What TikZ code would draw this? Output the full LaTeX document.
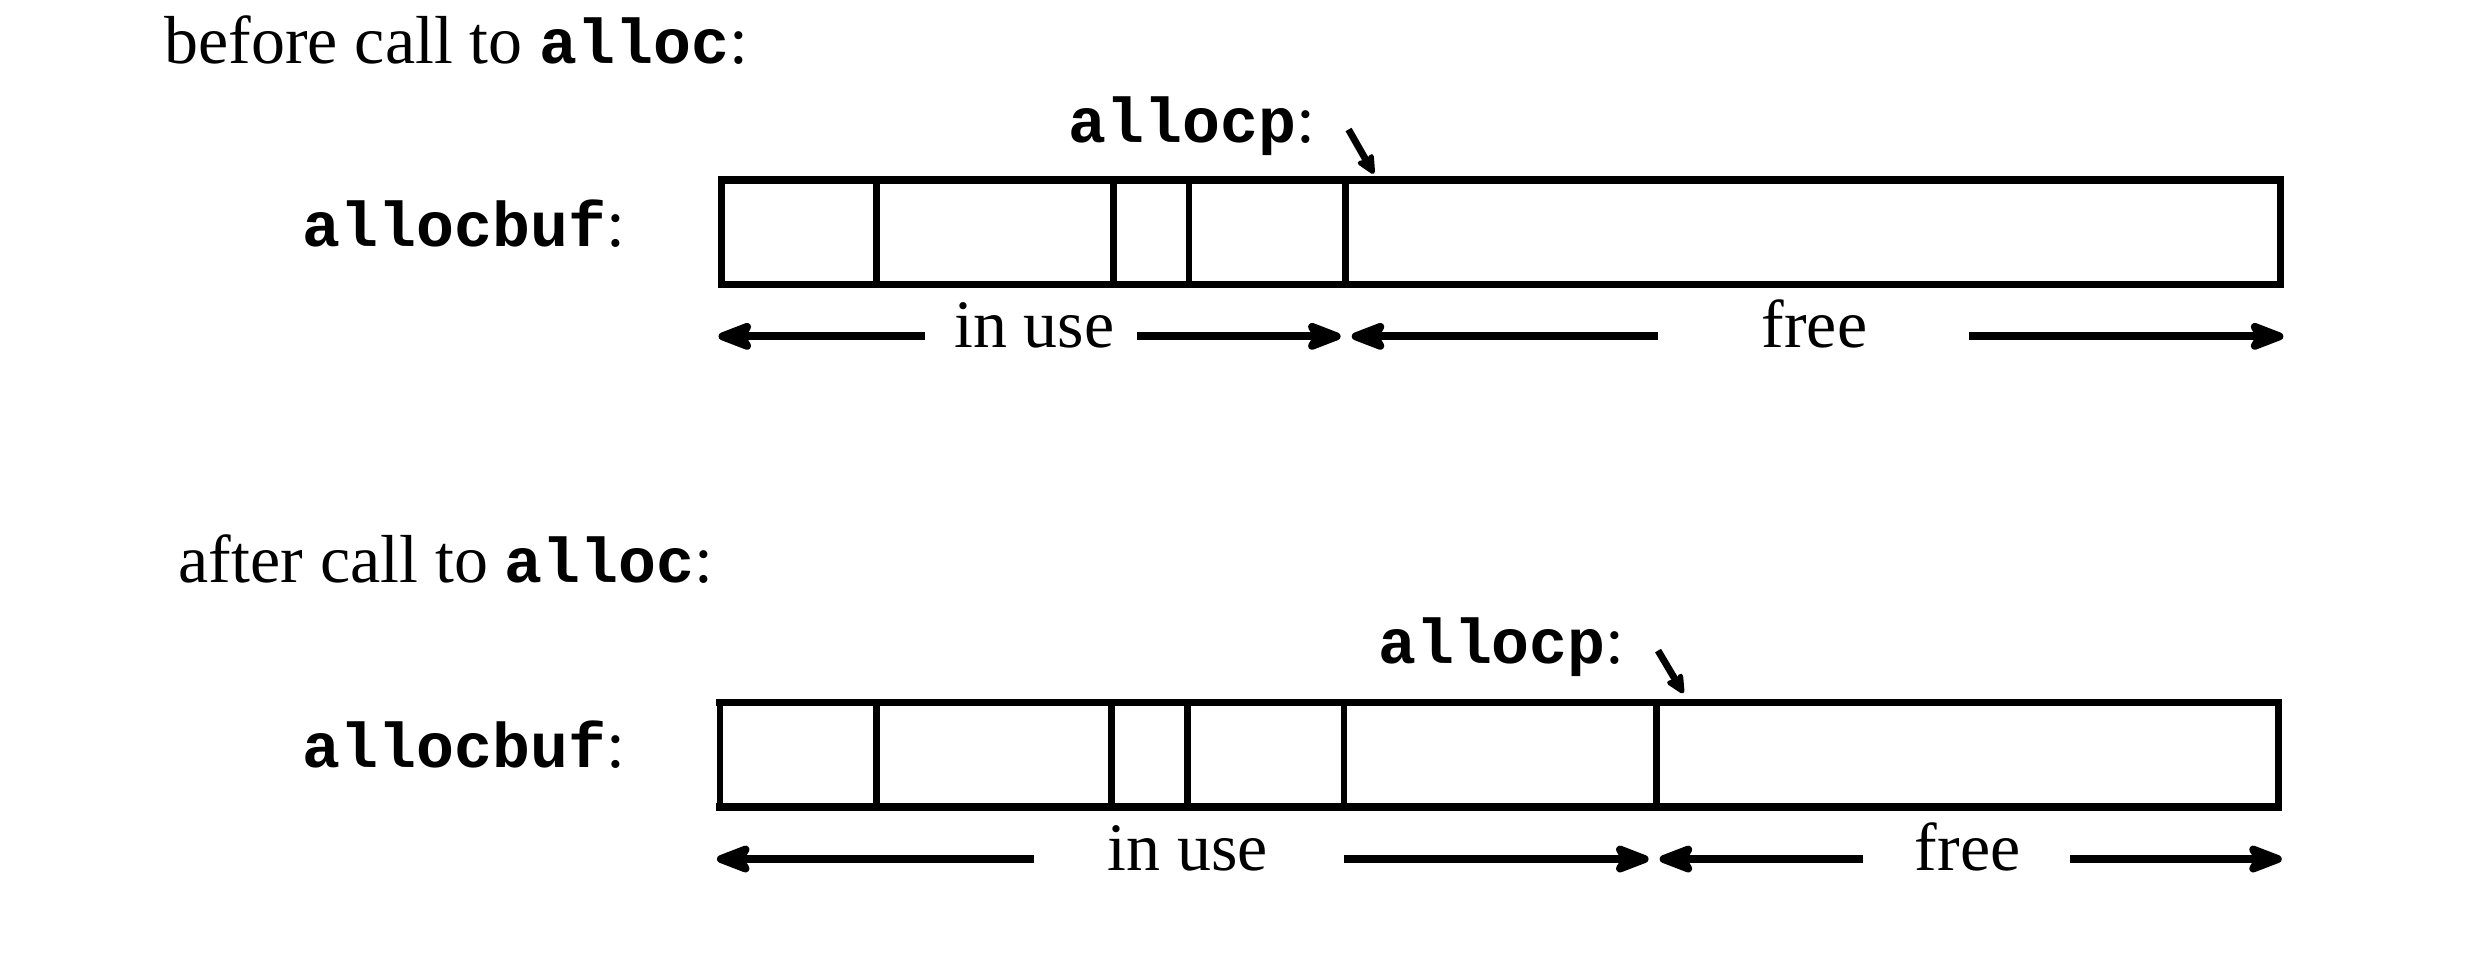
\documentclass[tikz,border=0pt]{standalone}
\usepackage{fontspec}
\setmainfont{Liberation Serif}
\setmonofont{Liberation Mono}
\usetikzlibrary{arrows.meta}
\newcommand{\rmsz}{\fontsize{43}{50}\selectfont}
\newcommand{\code}[1]{{\ttfamily\bfseries\fontsize{40}{48}\selectfont #1}}
\begin{document}
\begin{tikzpicture}[x=1pt,y=-1pt,
  txt/.style={inner sep=0pt, font=\rmsz},
  hline/.style={line width=4.6pt, line cap=rect},
  vline/.style={line width=4.2pt},
  span/.style={line width=5pt, -{Stealth[length=28pt,width=21pt,inset=6pt,round]}},
  ptr/.style={line width=4.4pt, -{Stealth[length=15pt,width=14pt,inset=3pt,round]}}]
\useasboundingbox (0,0) rectangle (1568,603);

% ---------- before ----------
\node[txt, anchor=base west] (t1) at (104,40) {before call to \code{alloc}:};
\node[txt, anchor=base east] (b1) at (396,156) {\code{allocbuf}:};
\node[txt, anchor=base east] (p1) at (833,90) {\code{allocp}:};
\coordinate (p1s) at (854,82);
\coordinate (p1e) at (870,110);
\draw[ptr] (p1s) -- (p1e);

\coordinate (A1) at (457,114);
\coordinate (B1) at (1444,180);
\draw[hline] (A1) -- (A1 -| B1);
\draw[hline] (A1 |- B1) -- (B1);
\foreach \x in {457,555,705,753,852,1444}
  \draw[vline] (\x,114) -- (\x,180);

\node[txt, anchor=base] (u1) at (655,220) {in use};
\node[txt, anchor=base] (f1) at (1149,220) {free};
\coordinate (u1a) at (586,213); \coordinate (u1l) at (455,213);
\coordinate (u1b) at (720,213); \coordinate (u1r) at (849,213);
\coordinate (f1a) at (1050,213); \coordinate (f1l) at (856,213);
\coordinate (f1b) at (1247,213); \coordinate (f1r) at (1446,213);
\draw[span] (u1a) -- (u1l);
\draw[span] (u1b) -- (u1r);
\draw[span] (f1a) -- (f1l);
\draw[span] (f1b) -- (f1r);

% ---------- after ----------
\node[txt, anchor=base west] (t2) at (113,369) {after call to \code{alloc}:};
\node[txt, anchor=base east] (b2) at (396,486) {\code{allocbuf}:};
\node[txt, anchor=base east] (p2) at (1029,420) {\code{allocp}:};
\coordinate (p2s) at (1050,412);
\coordinate (p2e) at (1066,439);
\draw[ptr] (p2s) -- (p2e);

\coordinate (A2) at (456,445);
\coordinate (B2) at (1443,511);
\draw[hline] (A2) -- (A2 -| B2);
\draw[hline] (A2 |- B2) -- (B2);
\foreach \x in {456,555,704,752,851,1049,1443}
  \draw[vline] (\x,445) -- (\x,511);

\node[txt, anchor=base] (u2) at (752,551) {in use};
\node[txt, anchor=base] (f2) at (1246,551) {free};
\coordinate (u2a) at (655,544); \coordinate (u2l) at (454,544);
\coordinate (u2b) at (851,544); \coordinate (u2r) at (1044,544);
\coordinate (f2a) at (1180,544); \coordinate (f2l) at (1051,544);
\coordinate (f2b) at (1311,544); \coordinate (f2r) at (1445,544);
\draw[span] (u2a) -- (u2l);
\draw[span] (u2b) -- (u2r);
\draw[span] (f2a) -- (f2l);
\draw[span] (f2b) -- (f2r);
\end{tikzpicture}
\end{document}
